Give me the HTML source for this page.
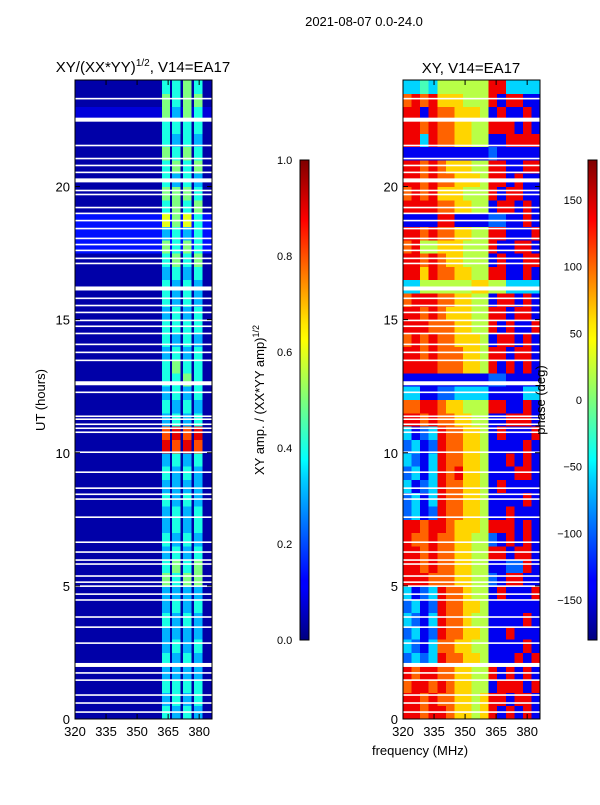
<!DOCTYPE html>
<html><head><meta charset="utf-8"><style>
body{margin:0;background:#fff;}
svg text{font-family:"Liberation Sans",sans-serif;fill:#000;}
</style></head><body>
<svg id="fig" width="600" height="800" viewBox="0 0 600 800" xmlns="http://www.w3.org/2000/svg">
<defs>
<linearGradient id="jet" x1="0" y1="1" x2="0" y2="0">
<stop offset="0" stop-color="#00007f"/><stop offset="0.11" stop-color="#0000ff"/><stop offset="0.125" stop-color="#0000ff"/>
<stop offset="0.34" stop-color="#00d4ff"/><stop offset="0.375" stop-color="#00ffff"/><stop offset="0.5" stop-color="#7dff7a"/>
<stop offset="0.625" stop-color="#ffff00"/><stop offset="0.66" stop-color="#ffe600"/><stop offset="0.875" stop-color="#ff0000"/><stop offset="1" stop-color="#7f0000"/>
</linearGradient>
</defs>
<text x="364" y="26" font-size="13" text-anchor="middle">2021-08-07 0.0-24.0</text>
<text x="143" y="72" font-size="15" text-anchor="middle">XY/(XX*YY)<tspan font-size="10" dy="-6">1/2</tspan><tspan dy="6">, V14=EA17</tspan></text>
<text x="471" y="73" font-size="15" text-anchor="middle">XY, V14=EA17</text>
<g id="left"></g>
<g id="right"></g>
<g id="axes"></g>
<text transform="translate(45,400) rotate(-90)" font-size="13" text-anchor="middle">UT (hours)</text>
<text x="420" y="755" font-size="13" text-anchor="middle">frequency (MHz)</text>
<rect x="300" y="160" width="9" height="480" fill="url(#jet)" stroke="#000" stroke-width="1"/>
<rect x="588" y="160" width="9" height="480" fill="url(#jet)" stroke="#000" stroke-width="1"/>
<text transform="translate(264,400) rotate(-90)" font-size="13" text-anchor="middle">XY amp. / (XX*YY amp)<tspan font-size="9" dy="-5">1/2</tspan></text>
<text transform="translate(545,400) rotate(-90)" font-size="13" text-anchor="middle">phase (deg)</text>
</svg>
<script>
const phaseRows=["8878876656818181","8878776656881881","7887876655188818","8788776655818181","2323877665111818","3213776655111181","2312877665118111","3213877655111181","2312877665111111","3123877655181118","8887776655218811","8878776655112281","8878776655881881","8778776655218181","8878876665888181","2312877665118111","2313877665111181","3123877665181111","2313878665111881","3213877665118181","2312877665111181","3123877665181118","8878776655118881","7788766555881181","3311223333111133","1111111111221111","8888777665818181","8878777665881881","7878776665188181","8887776655818118","8878766655881881","7888776655188181","3355555566553333","8868776655881181","8878766555181188","7855666555811881","8878776655881118","1111881111221181","8888776655188181","7878666555818811","8878776665881811","8878766655881188","1111111111211111","8838776655118888","8878776655888181","8818776665181181","7878666555818811","3343555555883333"];
const ampRows=["4343","3434","4444","3333","4343","3434","3333","4343","3434","3333","5455","4545","3434","4343","3434","3434","4343","3333","4343","3434","9898","8989","3434","4343","3434","4454","4544","3434","4343","4444","3434","4343","4343","3434","4545","5454","3434","6564","4545","5554","4343","4545","5454","4343","4444","5354","5455","4454"];
const bgRows="000000000000000000000000000000000002220000000100";
const stripeStart=[362.0,366.9,372.2,377.5];
const stripeWidth=4.0;
const gapHours=[23.30,22.51,21.54,21.05,20.79,20.53,20.23,19.85,19.70,19.21,18.99,18.72,18.42,18.05,17.82,17.60,17.30,17.11,16.17,15.80,15.53,15.27,14.97,14.75,14.48,14.07,13.77,13.47,12.61,12.27,11.37,11.26,11.07,10.92,10.77,10.02,9.27,8.67,8.44,8.26,7.58,6.64,6.27,5.97,5.82,5.37,5.14,4.99,4.69,4.47,3.83,3.45,2.85,2.03,1.73,1.46,0.90,0.60,0.26];
const wideGaps=[16.17,12.61,2.03,20.23,22.51];
const xTicks=[320,335,350,365,380];
const yTicks=[0,5,10,15,20];
const ampTicks=["0.0","0.2","0.4","0.6","0.8","1.0"];
const phaseTicks=[-150,-100,-50,0,50,100,150];
const F0=320,F1=386.2,T1=24;
const NS="http://www.w3.org/2000/svg";
function jet(v){v=Math.max(0,Math.min(1,v));const c=x=>Math.round(255*Math.max(0,Math.min(1,1.5-Math.abs(x))));return `rgb(${c(4*v-3)},${c(4*v-2)},${c(4*v-1)})`;}
function mk(p,tag,a){const e=document.createElementNS(NS,tag);for(const k in a)e.setAttribute(k,a[k]);p.appendChild(e);return e;}
function fx(x0,f){return x0+(f-F0)*137/(F1-F0);}
function ty(t){return 719-t*639/T1;}
const L=document.getElementById('left'),R=document.getElementById('right'),A=document.getElementById('axes');
const dt=T1/phaseRows.length;
phaseRows.forEach((row,i)=>{const n=row.length,df=(F1-F0)/n;
 for(let j=0;j<n;j++){const v=+row[j]/9;
  const r=mk(R,'rect',{x:fx(403,F0+j*df),y:ty((i+1)*dt),width:137/n+0.5,height:639/phaseRows.length+0.5,fill:jet(v),'shape-rendering':'crispEdges'});
  
  }});
ampRows.forEach((row,i)=>{
 const b=mk(L,'rect',{x:75,y:ty((i+1)*dt),width:137,height:639/ampRows.length+0.5,fill:jet(0.04+ +bgRows[i]*0.05),'shape-rendering':'crispEdges'});
 
 
 for(let s=0;s<4;s++){const v=+row[s]/10;
  const r=mk(L,'rect',{x:fx(75,stripeStart[s]),y:ty((i+1)*dt),width:stripeWidth*137/(F1-F0),height:639/ampRows.length+0.5,fill:jet(v),'shape-rendering':'crispEdges'});
  
  }});
[[L,75],[R,403]].forEach(([g,x0])=>gapHours.forEach(h=>{const w=wideGaps.includes(h)?4:1.6;
 const r=mk(g,'rect',{x:x0,y:ty(h)-w/2,width:137,height:w,fill:'#fff'});
 
 }));
[75,403].forEach(x0=>{
 const fr=mk(A,'rect',{x:x0,y:80,width:137,height:639,fill:'none',stroke:'#000','stroke-width':1});
 
 
 xTicks.forEach(f=>{const x=fx(x0,f);
  mk(A,'line',{x1:x,x2:x,y1:719,y2:714,stroke:'#000'});mk(A,'line',{x1:x,x2:x,y1:80,y2:85,stroke:'#000'});
  const t=mk(A,'text',{x:x,y:736,'font-size':13,'text-anchor':'middle'});t.textContent=f;
  
  });
 yTicks.forEach(h=>{const y=ty(h);
  mk(A,'line',{x1:x0,x2:x0+5,y1:y,y2:y,stroke:'#000'});mk(A,'line',{x1:x0+137,x2:x0+132,y1:y,y2:y,stroke:'#000'});
  const t=mk(A,'text',{x:x0-5,y:y+5,'font-size':13,'text-anchor':'end'});t.textContent=h;
  
  });
});
ampTicks.forEach((s,i)=>{const y=640-480*(+s);
 mk(A,'line',{x1:300,x2:303,y1:y,y2:y,stroke:'#000'});mk(A,'line',{x1:309,x2:306,y1:y,y2:y,stroke:'#000'});
 const t=mk(A,'text',{x:277,y:y+4,'font-size':11});t.textContent=s;
 
 });
phaseTicks.forEach(v=>{const y=640-480*(v+180)/360;
 mk(A,'line',{x1:588,x2:591,y1:y,y2:y,stroke:'#000'});mk(A,'line',{x1:597,x2:594,y1:y,y2:y,stroke:'#000'});
 const t=mk(A,'text',{x:582,y:y+4,'font-size':11,'text-anchor':'end'});t.textContent=v<0?'\u2212'+(-v):v;
 
 });
</script>
</body></html>
